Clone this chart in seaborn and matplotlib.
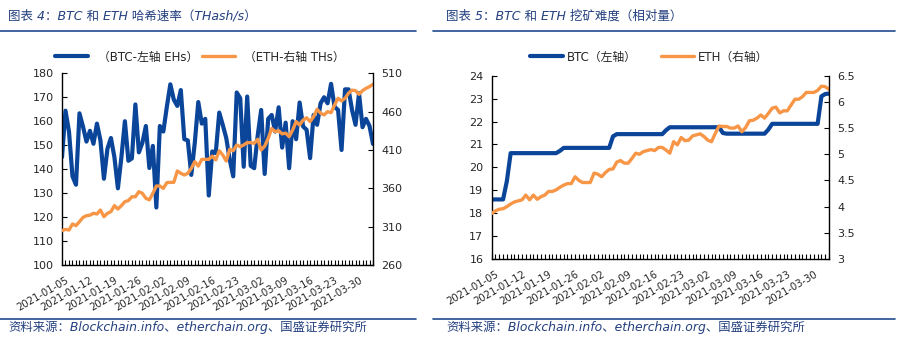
import matplotlib
matplotlib.use('Agg')
import matplotlib.pyplot as plt
import matplotlib.dates as mdates
from matplotlib.lines import Line2D
from matplotlib.ticker import FuncFormatter
import seaborn as sns
import pandas as pd

sns.set_theme(style='white')
plt.rcParams['font.family'] = ['DejaVu Sans', 'Noto Sans CJK SC']

# ---------------- data ----------------
start_date = '2021-01-04'
n_days = 90
label_dates = ['2021-01-05', '2021-01-12', '2021-01-19', '2021-01-26', '2021-02-02',
               '2021-02-09', '2021-02-16', '2021-02-23', '2021-03-02', '2021-03-09',
               '2021-03-16', '2021-03-23', '2021-03-30']

btc_hash = [145, 164.4, 155.7, 137, 133.5, 163.3, 157.8, 151.5, 156, 150.6,
            159, 152, 136, 148.5, 153, 145, 132, 145, 160, 143.5,
            144.5, 167, 147, 151, 158, 140.5, 149.7, 124, 158, 155.7,
            166, 175.4, 169, 166.4, 173, 152.5, 152, 137.6, 151, 168,
            159, 161, 129, 147.4, 146.7, 163.6, 158.5, 153, 144, 137,
            172, 169.6, 141, 170.3, 141.4, 140.4, 154, 164.7, 138, 161,
            162.6, 155.7, 165.8, 149, 159.4, 140.4, 160, 152.5, 167.8, 157.8,
            156.4, 144.6, 162.6, 158.5, 167.5, 170, 167.5, 175.6, 166, 164.7,
            148, 173.3, 173.3, 164.7, 158.5, 171.7, 157.5, 161, 158, 150.5]

eth_hash = [304.8, 306.5, 305.6, 313.5, 311.3, 316.5, 322, 324.3, 325, 327.4,
            326.5, 331.7, 323, 327.4, 329.6, 337.4, 333, 337.4, 342.6, 344,
            349, 349, 355.6, 353.5, 347, 345, 353.5, 363, 363, 360,
            367.4, 367.8, 367.8, 382.6, 379.6, 377.4, 379.6, 386, 394.8, 389,
            397.8, 397.8, 397.8, 402, 397, 409, 403.5, 395.6, 411, 409,
            416.5, 414.3, 416.5, 419.6, 419.6, 418.7, 424, 410, 415, 425,
            438, 434, 435, 431, 432, 427.4, 436, 447, 442.6, 449,
            452, 447, 453.5, 463, 458, 455.7, 460, 458.7, 468.7, 477.4,
            474, 477.4, 484, 488, 487.4, 482.6, 487.4, 490.4, 492.6, 495.7]

btc_diff = [18.6, 18.6, 18.6, 18.6, 19.4,
            20.62, 20.62, 20.62, 20.62, 20.62, 20.62, 20.62, 20.62, 20.62, 20.62, 20.62, 20.62, 20.62,
            20.72,
            20.85, 20.85, 20.85, 20.85, 20.85, 20.85, 20.85, 20.85, 20.85, 20.85, 20.85, 20.85, 20.85,
            21.35,
            21.45, 21.45, 21.45, 21.45, 21.45, 21.45, 21.45, 21.45, 21.45, 21.45, 21.45, 21.45, 21.45,
            21.62,
            21.75, 21.75, 21.75, 21.75, 21.75, 21.75, 21.75, 21.75, 21.75, 21.75, 21.75, 21.75, 21.75, 21.75,
            21.5,
            21.47, 21.47, 21.47, 21.47, 21.47, 21.47, 21.47, 21.47, 21.47, 21.47, 21.47,
            21.65,
            21.9, 21.9, 21.9, 21.9, 21.9, 21.9, 21.9, 21.9, 21.9, 21.9, 21.9, 21.9, 21.9,
            23.1, 23.2, 23.22]

eth_diff = [3.87, 3.92, 3.95, 3.96, 4.0, 4.05, 4.09, 4.11, 4.13, 4.22,
            4.13, 4.22, 4.14, 4.19, 4.22, 4.29, 4.29, 4.32, 4.37, 4.41,
            4.44, 4.44, 4.57, 4.50, 4.46, 4.46, 4.46, 4.64, 4.62, 4.57,
            4.65, 4.71, 4.72, 4.85, 4.88, 4.83, 4.83, 4.92, 5.02, 5.0,
            5.05, 5.07, 5.09, 5.07, 5.13, 5.13, 5.08, 5.02, 5.24, 5.18,
            5.32, 5.26, 5.27, 5.35, 5.37, 5.39, 5.34, 5.27, 5.24, 5.40,
            5.54, 5.53, 5.53, 5.50, 5.50, 5.54, 5.43, 5.51, 5.64, 5.65,
            5.69, 5.75, 5.69, 5.78, 5.88, 5.90, 5.79, 5.83, 5.83, 5.94,
            6.05, 6.05, 6.10, 6.18, 6.18, 6.18, 6.22, 6.30, 6.29, 6.24]

title_left = '图表 4：BTC 和 ETH 哈希速率（THash/s）'
title_right = '图表 5：BTC 和 ETH 挖矿难度（相对量）'
source_text = '资料来源：Blockchain.info、etherchain.org、国盛证券研究所'
legend_left = ['（BTC-左轴 EHs）', '（ETH-右轴 THs）']
legend_right = ['BTC（左轴）', 'ETH（右轴）']

# ---------------- styling ----------------
BLUE = '#0A4599'
ORANGE = '#F79646'
NAVY = '#24407E'
RULE = '#1F4A8C'

dates = pd.date_range(start_date, periods=n_days, freq='D')
df = pd.DataFrame({'date': dates, 'btc_hash': btc_hash, 'eth_hash': eth_hash,
                   'btc_diff': btc_diff, 'eth_diff': eth_diff})
ticks = pd.to_datetime(label_dates)

fig = plt.figure(figsize=(9.03, 3.52), dpi=100)


def style_axes(ax, axr):
    for a in (ax, axr):
        for s in a.spines.values():
            s.set_visible(False)
        a.grid(False)
        a.set_xlabel('')
        a.set_ylabel('')
    ax.spines['left'].set_visible(True)
    ax.spines['bottom'].set_visible(True)
    axr.spines['right'].set_visible(True)
    for a, side in ((ax, 'left'), (ax, 'bottom'), (axr, 'right')):
        a.spines[side].set_color('black')
        a.spines[side].set_linewidth(1.0)
    ax.set_xlim(dates[0], dates[-1])
    ax.xaxis.set_major_locator(matplotlib.ticker.FixedLocator(mdates.date2num(ticks)))
    ax.xaxis.set_major_formatter(mdates.DateFormatter('%Y-%m-%d'))
    ax.xaxis.set_minor_locator(mdates.DayLocator())
    ax.tick_params(axis='x', which='both', direction='in', length=3.5, width=0.8,
                   color='black', labelsize=7.2, pad=7.5, bottom=True)
    for lab in ax.get_xticklabels():
        lab.set_rotation(30)
        lab.set_ha('right')
        lab.set_va('top')
        lab.set_rotation_mode('anchor')
    ax.tick_params(axis='y', direction='in', length=3.5, width=0.8, color='black',
                    labelsize=8, pad=6, left=True)
    axr.tick_params(axis='y', direction='in', length=3.5, width=0.8, color='black',
                    labelsize=8, pad=6, right=True)


# ---------- left panel ----------
ax1 = fig.add_axes([62 / 903, 1 - 265 / 352, (373 - 62) / 903, (265 - 73.3) / 352])
ax1r = ax1.twinx()
sns.lineplot(data=df, x='date', y='btc_hash', ax=ax1, color=BLUE, linewidth=3.0, legend=False)
sns.lineplot(data=df, x='date', y='eth_hash', ax=ax1r, color=ORANGE, linewidth=2.4, legend=False)
ax1.set_ylim(100, 180)
ax1.set_yticks(range(100, 181, 10))
ax1r.set_ylim(260, 510)
ax1r.set_yticks(range(260, 511, 50))
style_axes(ax1, ax1r)

# ---------- right panel ----------
ax2 = fig.add_axes([491.7 / 903, 1 - 259 / 352, (829 - 491.7) / 903, (259 - 75.7) / 352])
ax2r = ax2.twinx()
sns.lineplot(data=df, x='date', y='btc_diff', ax=ax2, color=BLUE, linewidth=3.0, legend=False)
sns.lineplot(data=df, x='date', y='eth_diff', ax=ax2r, color=ORANGE, linewidth=2.4, legend=False)
ax2.set_ylim(16, 24)
ax2.set_yticks(range(16, 25, 1))
ax2r.set_ylim(3, 6.5)
ax2r.set_yticks([3, 3.5, 4, 4.5, 5, 5.5, 6, 6.5])
ax2r.yaxis.set_major_formatter(FuncFormatter(lambda v, p: f'{v:g}'))
style_axes(ax2, ax2r)

# ---------- legends ----------
h_blue = Line2D([], [], color=BLUE, linewidth=3.0)
h_orange = Line2D([], [], color=ORANGE, linewidth=2.4)
fig.legend([h_blue, h_orange], legend_left, loc='center', bbox_to_anchor=(200 / 903, 1 - 57 / 352),
           ncol=2, frameon=False, fontsize=8.5, handlelength=2.8, handletextpad=0.8,
           columnspacing=0.3, borderpad=0, borderaxespad=0)
fig.legend([h_blue, h_orange], legend_right, loc='center', bbox_to_anchor=(649 / 903, 1 - 57 / 352),
           ncol=2, frameon=False, fontsize=8.5, handlelength=2.8, handletextpad=0.35,
           columnspacing=2.0, borderpad=0, borderaxespad=0)

# ---------- titles, rules, sources ----------
fig.text(8 / 903, 1 - 16 / 352, title_left, fontsize=9, style='italic', color=NAVY, va='center', ha='left')
fig.text(446 / 903, 1 - 16 / 352, title_right, fontsize=9, style='italic', color=NAVY, va='center', ha='left')
fig.text(8 / 903, 1 - 327 / 352, source_text, fontsize=8.9, style='italic', color=NAVY, va='center', ha='left')
fig.text(446 / 903, 1 - 327 / 352, source_text, fontsize=8.9, style='italic', color=NAVY, va='center', ha='left')
for (x0, x1) in ((0, 416), (433, 895)):
    for y in (31, 318.5):
        fig.add_artist(Line2D([x0 / 903, x1 / 903], [1 - y / 352, 1 - y / 352],
                              transform=fig.transFigure, color=RULE, linewidth=1.2))

fig.savefig('out.png', dpi=100)
